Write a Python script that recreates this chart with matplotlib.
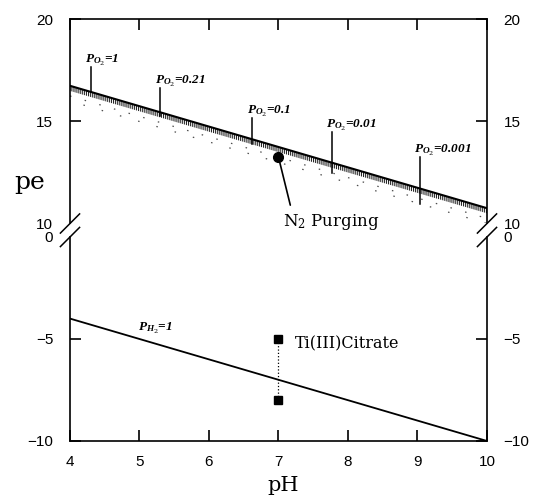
import matplotlib
matplotlib.use('Agg')
import matplotlib.pyplot as plt
import numpy as np

plt.rcParams['font.family'] = 'Liberation Sans'
plt.rcParams['mathtext.fontset'] = 'custom'
plt.rcParams['mathtext.rm'] = 'DejaVu Serif'
plt.rcParams['mathtext.it'] = 'Liberation Serif:italic:bold'
plt.rcParams['hatch.linewidth'] = 0.8

# pe-pH lines, values at pH 4 and pH 10
ph_range = [4, 10]
pe_o2_1 = [16.75, 10.75]
pe_o2_021 = [16.58, 10.58]
pe_o2_01 = [16.50, 10.50]
pe_o2_001 = [16.25, 10.25]
pe_o2_0001 = [16.00, 10.00]
pe_h2 = [-4.0, -10.0]

# P_O2 labels: text, pH of leader, pe of leader top
po2_text = ['1', '0.21', '0.1', '0.01', '0.001']
po2_ph = [4.30, 5.30, 6.62, 7.77, 9.03]
po2_top = [17.67, 16.64, 15.17, 14.49, 13.26]
po2_lines = [pe_o2_1, pe_o2_021, pe_o2_01, pe_o2_001, pe_o2_0001]

# measured systems
n2_ph, n2_pe = 7.0, 13.25
ti_ph = [7, 7]
ti_pe = [-5, -8]

fig = plt.figure(figsize=(5.38, 4.96), dpi=100)
ax_up = fig.add_axes([0.1301, 0.5494, 0.7751, 0.4113])
ax_lo = fig.add_axes([0.1301, 0.1109, 0.7751, 0.4113])

# upper panel: O2 lines
ax_up.plot(ph_range, pe_o2_1, color='k', lw=1.5)
ax_up.fill_between(ph_range, pe_o2_1, pe_o2_01, facecolor='none',
                   edgecolor='0.15', hatch='||||||||', lw=0)
ax_up.plot(ph_range, pe_o2_001, color='0.3', lw=0.9, ls=(0, (1.2, 11)))
ax_up.plot(ph_range, pe_o2_0001, color='0.3', lw=0.9, ls=(4, (1.2, 14)))

for txt, x, top, line in zip(po2_text, po2_ph, po2_top, po2_lines):
    bottom = np.interp(x, ph_range, line)
    ax_up.plot([x, x], [bottom, top], color='k', lw=1.1)
    ax_up.text(x - 0.08, top - 0.05, r'$P_{O_2}$=' + txt, family='Liberation Serif',
               style='italic', weight='bold', fontsize=9.5, ha='left', va='bottom')

ax_up.plot(n2_ph, n2_pe, 'o', color='k', ms=7)
ax_up.annotate(r'N$_2$ Purging', xy=(n2_ph, n2_pe), xytext=(7.06, 9.9),
               family='DejaVu Serif', fontsize=12, va='baseline', ha='left',
               annotation_clip=False)
ax_up.annotate('', xy=(n2_ph, n2_pe), xytext=(7.17, 10.9),
               arrowprops=dict(arrowstyle='-', lw=1.2, color='k',
                               shrinkA=0, shrinkB=0))

# lower panel: H2 line and Ti(III) citrate
ax_lo.plot(ph_range, pe_h2, color='k', lw=1.3)
ax_lo.text(4.98, -4.85, r'$P_{H_2}$=1', family='Liberation Serif',
           style='italic', weight='bold', fontsize=9.5, ha='left', va='bottom')
ax_lo.plot(ti_ph, ti_pe, color='k', lw=0.9, ls=':', marker='s', ms=5.5)
ax_lo.text(7.24, -5.25, 'Ti(III)Citrate', family='DejaVu Serif',
           fontsize=11.5, ha='left', va='center')

# axes and broken-axis styling
for ax in (ax_up, ax_lo):
    ax.set_xlim(4, 10)
    ax.set_xticks(range(4, 11))
    for s in ax.spines.values():
        s.set_linewidth(1.2)
    ax.tick_params(which='major', direction='in', length=8, width=1.2,
                   color='k', labelsize=11)
    ax.tick_params(which='minor', length=0, labelsize=11)
    ax.tick_params(axis='y', which='both', pad=12, left=True, right=True,
                   labelleft=True, labelright=True)
    ax.tick_params(axis='x', which='both', pad=10)

ax_up.set_ylim(10, 20)
ax_lo.set_ylim(-10, 0)
# ticks at 15 and -5, labels at the break without tick marks
ax_up.set_yticks([15, 20])
ax_up.set_yticks([10], labels=['10'], minor=True)
ax_lo.set_yticks([-10, -5])
ax_lo.set_yticks([0], labels=['0'], minor=True)

ax_up.tick_params(axis='x', top=True, bottom=False, labeltop=False,
                  labelbottom=False)
ax_lo.tick_params(axis='x', top=False, bottom=True)
ax_up.spines['bottom'].set_visible(False)
ax_lo.spines['top'].set_visible(False)

# break slashes
dx, dy = 0.023, 0.047
for ax, yb in ((ax_up, 0), (ax_lo, 1)):
    for xb in (0, 1):
        ax.plot([xb - dx, xb + dx], [yb - dy, yb + dy], transform=ax.transAxes,
                color='k', lw=1.1, clip_on=False)

fig.text(30 / 538, 1 - 183 / 496, 'pe', family='DejaVu Serif', fontsize=18,
         ha='center', va='center')
fig.text(283 / 538, 1 - 491 / 496, 'pH', family='DejaVu Serif', fontsize=15,
         ha='center', va='baseline')

fig.savefig('out.png', dpi=100)
